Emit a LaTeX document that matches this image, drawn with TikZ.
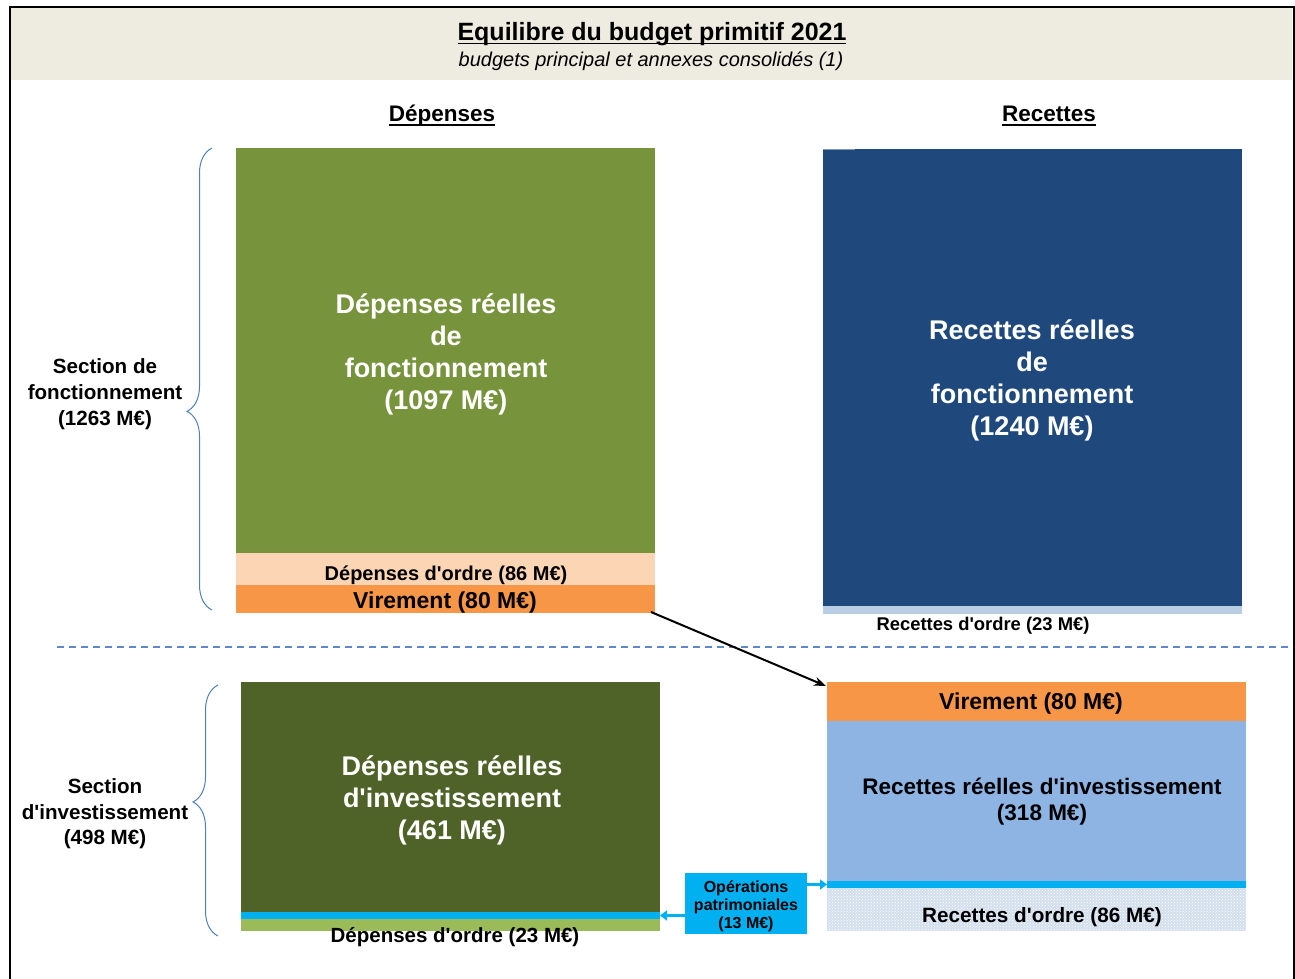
\documentclass[tikz,border=0pt]{standalone}
\usepackage{fontspec}
\setmainfont{Liberation Sans}
\usetikzlibrary{decorations.pathreplacing,patterns,arrows.meta}

\definecolor{hdr}{HTML}{EEEBE0}
\definecolor{cgreen}{HTML}{77933C}
\definecolor{cpeach}{HTML}{FCD5B5}
\definecolor{corange}{HTML}{F79646}
\definecolor{cdblue}{HTML}{1F497D}
\definecolor{clblue}{HTML}{B9CDE5}
\definecolor{colive}{HTML}{4F6228}
\definecolor{clgreen}{HTML}{9BBB59}
\definecolor{ccyan}{HTML}{00B0F0}
\definecolor{cmblue}{HTML}{8EB4E3}
\definecolor{cdots}{HTML}{D3DFEE}
\definecolor{cbrace}{HTML}{4F81BD}
\definecolor{cdash}{HTML}{5B8AC6}
\definecolor{cart}{HTML}{8096B8}

\newcommand\setfs[2]{\fontsize{#1}{#2}\selectfont}
\newcommand\myul[1]{\setbox0=\hbox{#1}\rlap{\rule[-3.8pt]{\wd0}{1.6pt}}\box0}
\newcommand\apo{\textquotesingle}

\tikzset{
  blk/.style={anchor=north west, inner sep=0pt, outer sep=0pt, draw=none},
  lbl/.style={inner sep=0pt, outer sep=0pt, align=center, text=black},
  bigw/.style={inner sep=0pt, outer sep=0pt, text=white, align=center, font=\bfseries\setfs{27}{32}},
  bracestyle/.style={draw=cbrace, line width=1pt, decorate},
  cyarrow/.style={draw=ccyan, line width=3pt, -{Triangle[length=7pt,width=10pt]}},
}

\begin{document}
\begin{tikzpicture}[x=1pt, y=-1pt]
\useasboundingbox (0,0) rectangle (1295,979);
\fill[white] (0,0) rectangle (1295,979);

% header band and frame
\fill[hdr] (10,8) rectangle (1292,80);
\draw[line width=2pt, black] (9.5,979) -- (9.5,7) -- (1293.5,7) -- (1293.5,979);

\node[lbl, anchor=base, font=\bfseries\setfs{25}{30}] (title) at (652,40.5) {\myul{Equilibre du budget primitif 2021}};
\node[lbl, anchor=base, font=\itshape\setfs{20}{24}] (subtitle) at (651,67) {budgets principal et annexes consolidés (1)};

\node[lbl, anchor=base, font=\bfseries\setfs{22.5}{27}] (hdep) at (442,122) {\myul{Dépenses}};
\node[lbl, anchor=base, font=\bfseries\setfs{22.5}{27}] (hrec) at (1049,122) {\myul{Recettes}};

% ---- fonctionnement: dépenses
\node[blk, fill=cgreen, minimum width=419pt, minimum height=405pt] (drf) at (236,148) {};
\node[bigw] (drfl) at (446,354) {Dépenses réelles\\de\\fonctionnement\\(1097 M€)};
\node[blk, fill=cpeach, minimum width=419pt, minimum height=32pt] (dord) at (236,553) {};
\node[lbl, font=\bfseries\setfs{20}{24}] (dordl) at (446,575) {Dépenses d\apo ordre (86 M€)};
\node[blk, fill=corange, minimum width=419pt, minimum height=28pt] (virA) at (236,585) {};
\node[lbl, font=\bfseries\setfs{23}{27}] (virAl) at (445,603) {Virement (80 M€)};

% ---- fonctionnement: recettes
\node[blk, fill=cdblue, minimum width=419pt, minimum height=457pt] (rrf) at (823,149) {};
\node[bigw] (rrfl) at (1032,380.5) {Recettes réelles\\de\\fonctionnement\\(1240 M€)};
\draw[cart, line width=1pt] (rrf.north west) -- ++(32,0);
\node[blk, fill=clblue, minimum width=419pt, minimum height=8pt] (rord) at (823,606) {};
\node[lbl, font=\bfseries\setfs{18.4}{22}] (rordl) at (983,625.5) {Recettes d\apo ordre (23 M€)};

% separator
\coordinate (sepL) at (57,647);
\coordinate (sepR) at (1293,647);
\draw[cdash, line width=2pt, dash pattern=on 7pt off 5pt] (sepL) -- (sepR);

% ---- investissement: dépenses
\node[blk, fill=colive, minimum width=419pt, minimum height=230pt] (dri) at (241,682) {};
\node[bigw] (dril) at (452,800) {Dépenses réelles\\d\apo investissement\\(461 M€)};
\node[blk, fill=ccyan, minimum width=419pt, minimum height=7pt] (cyL) at (241,912) {};
\node[blk, fill=clgreen, minimum width=419pt, minimum height=12pt] (dord2) at (241,919) {};
\node[lbl, font=\bfseries\setfs{20.5}{24}] (dord2l) at (455,937.5) {Dépenses d\apo ordre (23 M€)};

% ---- investissement: recettes
\node[blk, fill=corange, minimum width=419pt, minimum height=39pt] (virB) at (827,682) {};
\node[lbl, font=\bfseries\setfs{23}{27}] (virBl) at (1031,704) {Virement (80 M€)};
\node[blk, fill=cmblue, minimum width=419pt, minimum height=160pt] (rri) at (827,721) {};
\node[lbl, font=\bfseries\setfs{22.5}{26}] (rril) at (1042,802) {Recettes réelles d\apo investissement\\(318 M€)};
\node[blk, fill=ccyan, minimum width=419pt, minimum height=7pt] (cyR) at (827,881) {};
\node[blk, fill=cdots, minimum width=419pt, minimum height=43pt] (rord2) at (827,888) {};
\fill[pattern=crosshatch dots, pattern color=white] (rord2.north west) rectangle (rord2.south east);
\node[lbl, font=\bfseries\setfs{20.7}{24}] (rord2l) at (1042,917) {Recettes d\apo ordre (86 M€)};

% opérations patrimoniales
\node[blk, fill=ccyan, minimum width=122pt, minimum height=61pt] (ops) at (685,873) {};
\node[lbl, font=\bfseries\setfs{16}{18}] (opsl) at (746,906.5) {Opérations\\patrimoniales\\(13 M€)};
\draw[cyarrow] (ops.east |- cyR.west) -- (cyR.west);
\draw[cyarrow] (ops.west |- cyL.east) -- (cyL.east);

% virement arrow
\draw[black, line width=2pt, -{Stealth[length=12pt,width=9pt]}]
  ([xshift=-4pt,yshift=1pt]virA.south east) -- ([xshift=-1pt,yshift=-4pt]virB.north west);

% braces and section labels
\coordinate (b1bot) at (212,610);
\coordinate (b1top) at (212,148);
\draw[bracestyle, decoration={brace, amplitude=25pt, aspect=0.43}] (b1bot) -- (b1top);
\node[lbl, font=\bfseries\setfs{20.6}{26}] (secf) at (105,394) {Section de\\fonctionnement\\(1263 M€)};

\coordinate (b2bot) at (218,936);
\coordinate (b2top) at (218,685);
\draw[bracestyle, decoration={brace, amplitude=25pt, aspect=0.534}] (b2bot) -- (b2top);
\node[lbl, font=\bfseries\setfs{20.6}{25.5}] (seci) at (105,814) {Section\\d\apo investissement\\(498 M€)};
\end{tikzpicture}
\end{document}
